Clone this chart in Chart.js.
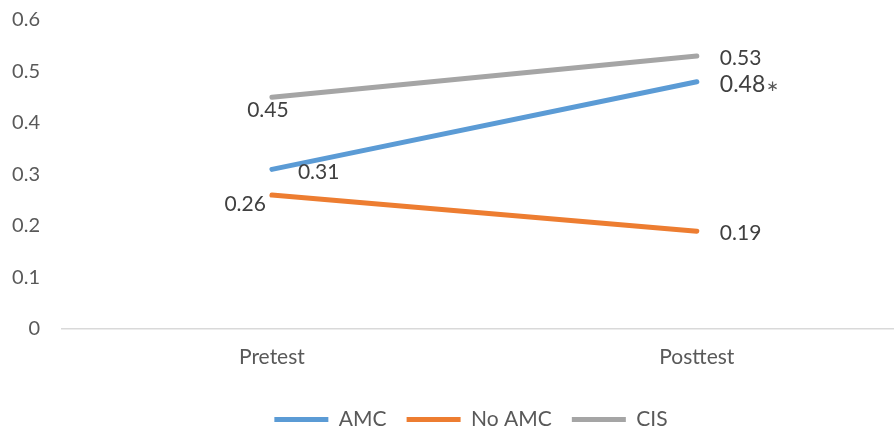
<!DOCTYPE html>
<html>
<head>
<meta charset="utf-8">
<script src="https://cdn.jsdelivr.net/npm/chart.js@4/dist/chart.umd.min.js"></script>
<style>
  html, body { margin: 0; padding: 0; background: #ffffff; overflow: hidden; }
  #wrap { width: 894px; height: 428px; position: relative; }
</style>
</head>
<body>
<div id="wrap"><canvas id="chart"></canvas></div>
<script>
// Test phases along the x axis
const categories = ["Pretest", "Posttest"];

// Mean scores per group
const amcValues = [0.31, 0.48];
const noAmcValues = [0.26, 0.19];
const cisValues = [0.45, 0.53];

// Significance marks appended to value labels
const amcMarks = ["", "*"];

// Y axis tick values
const yTicks = [0, 0.1, 0.2, 0.3, 0.4, 0.5, 0.6];

const FONT = "Lato, 'Open Sans', sans-serif";

// Where each series' value label sits relative to its point: [dx, dy, align]
const labelPlacement = {
  "AMC":    [[26, 3, "left"], [23, 3, "left"]],
  "No AMC": [[-6, 9, "right"], [23, 2, "left"]],
  "CIS":    [[-4, 13, "center"], [23, 2, "left"]]
};

const seriesMarks = { "AMC": amcMarks };

function toPoints(values) {
  return values.map((v, i) => ({ x: i, y: v }));
}

const valueLabels = {
  id: "valueLabels",
  afterDatasetsDraw(chart) {
    const ctx = chart.ctx;
    chart.data.datasets.forEach((ds, di) => {
      const meta = chart.getDatasetMeta(di);
      const place = labelPlacement[ds.label];
      const marks = seriesMarks[ds.label] || [];
      meta.data.forEach((pt, i) => {
        const [dx, dy, align] = place[i];
        const text = ds.data[i].y.toFixed(2);
        const mark = marks[i] || "";
        const size = mark ? 23 : 21;
        ctx.save();
        ctx.font = size + "px " + FONT;
        ctx.fillStyle = "#404040";
        ctx.textBaseline = "middle";
        ctx.textAlign = align;
        const x = pt.x + dx, y = pt.y + dy;
        ctx.fillText(text, x, y);
        if (mark) {
          const w = ctx.measureText(text).width;
          ctx.font = "15px 'DejaVu Sans', sans-serif";
          ctx.textAlign = "left";
          ctx.fillStyle = "#595959";
          ctx.fillText("\u2217", x + w + 1, y + 2);
        }
        ctx.restore();
      });
    });
  }
};

const lineStyle = {
  borderWidth: 5,
  borderCapStyle: "round",
  pointRadius: 0,
  pointHoverRadius: 0,
  fill: false,
  tension: 0
};

new Chart(document.getElementById("chart"), {
  type: "line",
  data: {
    datasets: [
      Object.assign({ label: "AMC", data: toPoints(amcValues), borderColor: "#5b9bd5", backgroundColor: "#5b9bd5" }, lineStyle),
      Object.assign({ label: "No AMC", data: toPoints(noAmcValues), borderColor: "#ed7d31", backgroundColor: "#ed7d31" }, lineStyle),
      Object.assign({ label: "CIS", data: toPoints(cisValues), borderColor: "#a5a5a5", backgroundColor: "#a5a5a5" }, lineStyle)
    ]
  },
  options: {
    responsive: true,
    maintainAspectRatio: false,
    animation: false,
    layout: { padding: { left: 0, right: -48, top: 20, bottom: -12 } },
    plugins: {
      tooltip: { enabled: false },
      legend: {
        position: "bottom",
        labels: {
          usePointStyle: true,
          pointStyle: "line",
          pointStyleWidth: 54,
          boxHeight: 4,
          padding: 20,
          color: "#595959",
          font: { family: FONT, size: 21 }
        }
      }
    },
    scales: {
      x: {
        type: "linear",
        min: -0.494,
        max: 1.464,
        afterBuildTicks(scale) {
          scale.ticks = categories.map((c, i) => ({ value: i }));
        },
        afterFit(scale) { scale.height = 60; },
        ticks: {
          callback: (v) => categories[v],
          color: "#595959",
          font: { family: FONT, size: 21 },
          padding: 8,
          maxRotation: 0
        },
        grid: { display: false },
        border: { display: true, color: "#d9d9d9", width: 1.5 }
      },
      y: {
        min: 0,
        max: 0.6,
        afterBuildTicks(scale) {
          scale.ticks = yTicks.map(v => ({ value: v }));
        },
        afterFit(scale) {
          scale.width = 62;
          scale.paddingTop = 0;
          scale.paddingBottom = 0;
        },
        ticks: {
          callback: (v) => String(Math.round(v * 10) / 10),
          color: "#595959",
          font: { family: FONT, size: 20 },
          padding: 22
        },
        grid: { display: false, drawTicks: false },
        border: { display: false }
      }
    }
  },
  plugins: [valueLabels]
});
</script>
</body>
</html>
